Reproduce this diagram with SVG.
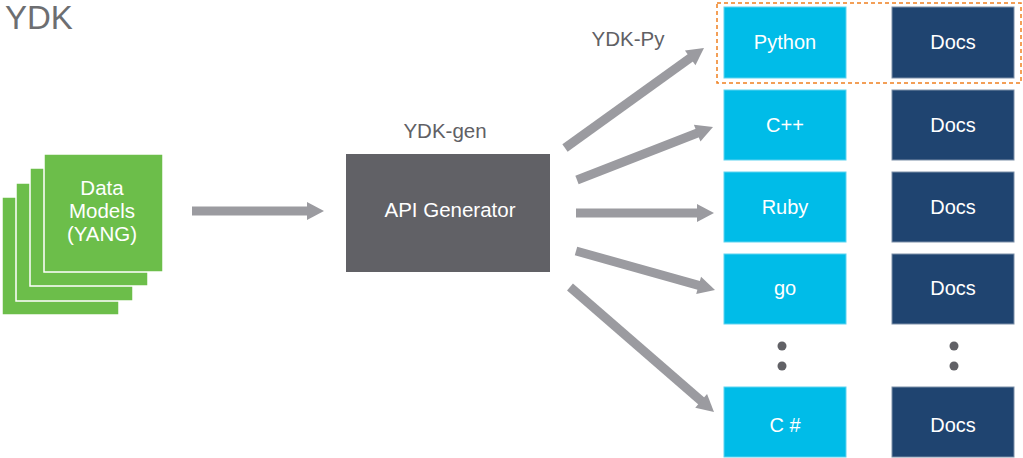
<svg xmlns="http://www.w3.org/2000/svg" width="1023" height="458" viewBox="0 0 1023 458">
<style>
text{font-family:"Liberation Sans",Arial,sans-serif}
.lbl{fill:#606064;font-size:20.5px;text-anchor:middle}
.w{fill:#ffffff;font-size:20px;text-anchor:middle}
.g{fill:#6cbe4a;stroke:#ffffff;stroke-width:1.5}
.lang{fill:#00bce8;stroke:#5fd3f0;stroke-width:1}
.doc{fill:#1f4470;stroke:#7d8fa8;stroke-width:1}
.arr{stroke:#9b9ba0;stroke-width:9;fill:none;marker-end:url(#ah)}
.dot{fill:#616166}
</style>
<defs>
<marker id="ah" markerUnits="userSpaceOnUse" markerWidth="20" markerHeight="20" viewBox="-2 -10 20 20" refX="0" refY="0" orient="auto">
<path d="M-1,-9 L16,0 L-1,9 z" fill="#9b9ba0"/>
</marker>
</defs>
<rect width="1023" height="458" fill="#ffffff"/>
<text x="5" y="29" style="font-size:33px;fill:#6d6e71">YDK</text>

<g id="data-models">
<rect class="g" x="2" y="197" width="117" height="118"/>
<rect class="g" x="16" y="183" width="117" height="118"/>
<rect class="g" x="30" y="168" width="118" height="118"/>
<rect class="g" x="44" y="154" width="119" height="118"/>
<text class="w" x="102" y="195" style="font-size:20.5px">Data</text>
<text class="w" x="102" y="218" style="font-size:20.5px">Models</text>
<text class="w" x="102" y="241" style="font-size:20.5px">(YANG)</text>
</g>

<g id="api-generator">
<text class="lbl" x="445" y="138">YDK-gen</text>
<rect x="346" y="154" width="204" height="118" fill="#616166"/>
<text class="w" x="450" y="217" style="font-size:20.5px">API Generator</text>
</g>

<g id="ydk-py">
<text class="lbl" x="628" y="46">YDK-Py</text>
<rect x="717" y="3" width="304" height="80" fill="none" stroke="#f08020" stroke-width="1.5" stroke-dasharray="4,3"/>
</g>

<g id="python"><rect class="lang" x="724" y="7" width="122" height="71"/><text class="w" x="785" y="49">Python</text></g>
<g id="python-docs"><rect class="doc" x="892" y="7" width="122" height="71"/><text class="w" x="953" y="49">Docs</text></g>
<g id="cpp"><rect class="lang" x="724" y="90" width="122" height="70"/><text class="w" x="785" y="132">C++</text></g>
<g id="cpp-docs"><rect class="doc" x="892" y="90" width="122" height="70"/><text class="w" x="953" y="132">Docs</text></g>
<g id="ruby"><rect class="lang" x="724" y="172" width="122" height="70"/><text class="w" x="785" y="214">Ruby</text></g>
<g id="ruby-docs"><rect class="doc" x="892" y="172" width="122" height="70"/><text class="w" x="953" y="214">Docs</text></g>
<g id="go"><rect class="lang" x="724" y="254" width="122" height="70"/><text class="w" x="785" y="295">go</text></g>
<g id="go-docs"><rect class="doc" x="892" y="254" width="122" height="70"/><text class="w" x="953" y="295">Docs</text></g>
<g id="ellipsis">
<circle class="dot" cx="782" cy="346" r="4.5"/><circle class="dot" cx="782" cy="366" r="4.5"/>
<circle class="dot" cx="954" cy="346" r="4.5"/><circle class="dot" cx="954" cy="366" r="4.5"/>
</g>
<g id="csharp"><rect class="lang" x="724" y="387" width="122" height="70"/><text class="w" x="785" y="432">C #</text></g>
<g id="csharp-docs"><rect class="doc" x="892" y="387" width="122" height="70"/><text class="w" x="953" y="432">Docs</text></g>

<g id="connectors">
<line class="arr" x1="192" y1="211" x2="308" y2="211"/>
<line class="arr" x1="565" y1="148" x2="691" y2="57.3"/>
<line class="arr" x1="577" y1="180" x2="698.1" y2="132.8"/>
<line class="arr" x1="576" y1="213" x2="698" y2="213"/>
<line class="arr" x1="576" y1="251" x2="699.6" y2="285.7"/>
<line class="arr" x1="570" y1="287" x2="701.9" y2="401.5"/>
</g>
</svg>
